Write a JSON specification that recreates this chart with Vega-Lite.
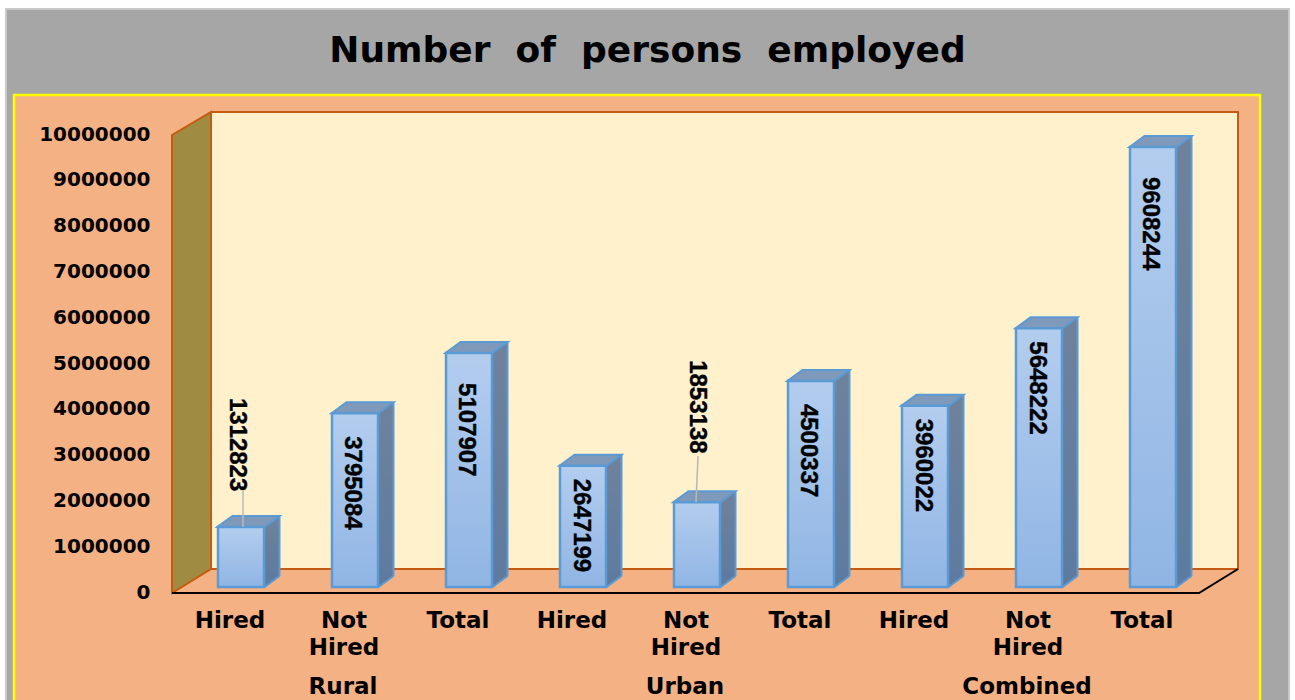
{"$schema":"https://vega.github.io/schema/vega-lite/v6.json","width":1295,"height":700,"padding":0,"autosize":"none","background":"#ffffff","config":{"view":{"stroke":null},"text":{"font":"Liberation Sans"}},"title":{"text":"Number\u00a0\u00a0of\u00a0\u00a0persons\u00a0\u00a0employed","font":"DejaVu Sans","fontWeight":"bold","fontSize":36,"color":"#000000","anchor":"middle","offset":-70,"zindex":1},"data":{"values":[{"id":"Rural Hired","group":"Rural","category":"Hired","value":1312823},{"id":"Rural Not Hired","group":"Rural","category":"Not Hired","value":3795084},{"id":"Rural Total","group":"Rural","category":"Total","value":5107907},{"id":"Urban Hired","group":"Urban","category":"Hired","value":2647199},{"id":"Urban Not Hired","group":"Urban","category":"Not Hired","value":1853138},{"id":"Urban Total","group":"Urban","category":"Total","value":4500337},{"id":"Combined Hired","group":"Combined","category":"Hired","value":3960022},{"id":"Combined Not Hired","group":"Combined","category":"Not Hired","value":5648222},{"id":"Combined Total","group":"Combined","category":"Total","value":9608244}]},"encoding":{"x":{"field":"id","type":"nominal","sort":null,"axis":null,"scale":{"type":"band","padding":0,"range":[184,1210]}},"y":{"field":"value","type":"quantitative","scale":{"domain":[-2467000,12817000],"nice":false,"zero":false},"axis":{"title":null,"values":[0,1000000,2000000,3000000,4000000,5000000,6000000,7000000,8000000,9000000,10000000],"format":"d","domain":false,"ticks":false,"grid":false,"offset":-150,"labelPadding":0,"labelOffset":5,"labelFont":"DejaVu Sans","labelFontWeight":"bold","labelFontSize":20,"labelColor":"#000000","zindex":1}}},"layer":[{"transform":[{"filter":"datum.id==='Rural Hired'"}],"mark":{"type":"point","filled":true,"opacity":1,"size":4000000,"shape":"M-0.235,-0.578L1.048,-0.578L1.048,0.12L-0.235,0.12Z","fill":"#a6a6a6","stroke":"#c8c8c8","strokeWidth":2},"encoding":{"y":{"datum":0,"type":"quantitative"}}},{"transform":[{"filter":"datum.id==='Rural Hired'"}],"mark":{"type":"point","filled":true,"opacity":1,"size":4000000,"shape":"M-0.227,-0.492L1.019,-0.492L1.019,0.13L-0.227,0.13Z","fill":"#f4b183","stroke":"#ffff00","strokeWidth":2.5},"encoding":{"y":{"datum":0,"type":"quantitative"}}},{"transform":[{"filter":"datum.id==='Rural Hired'"}],"mark":{"type":"point","filled":true,"opacity":1,"size":4000000,"shape":"M-0.03,-0.475L0.997,-0.475L0.997,-0.018L-0.03,-0.018Z","fill":"#fff1cc","stroke":"#c55a11","strokeWidth":2},"encoding":{"y":{"datum":0,"type":"quantitative"}}},{"transform":[{"filter":"datum.id==='Rural Hired'"}],"mark":{"type":"point","filled":true,"opacity":1,"size":4000000,"shape":"M-0.069,-0.452L-0.03,-0.475L-0.03,-0.018L-0.069,0.006Z","fill":"#a08c40","stroke":"#c55a11","strokeWidth":2},"encoding":{"y":{"datum":0,"type":"quantitative"}}},{"transform":[{"filter":"datum.id==='Rural Hired'"}],"mark":{"type":"point","filled":false,"opacity":1,"size":4000000,"shape":"M-0.069,0.006L0.958,0.006L0.997,-0.018","stroke":"#000000","strokeWidth":2},"encoding":{"y":{"datum":0,"type":"quantitative"}}},{"mark":{"type":"bar","width":46,"xOffset":15,"yOffset":-11,"y2Offset":-11,"fill":{"x1":0,"y1":0,"x2":0,"y2":1,"gradient":"linear","stops":[{"offset":0,"color":"#6f829c"},{"offset":1,"color":"#5e7b9f"}]}},"encoding":{"y2":{"datum":0}}},{"mark":{"type":"point","filled":true,"opacity":1,"size":40000,"shape":"M0.235,0L0.385,-0.11L0.385,-0.14L0.235,-0.14Z","fill":"#5e7b9f","strokeWidth":0},"encoding":{"y":{"datum":0,"type":"quantitative"}}},{"mark":{"type":"point","filled":false,"opacity":1,"size":40000,"shape":"M0.235,0L0.385,-0.11","stroke":"#5b9bd5","strokeWidth":2},"encoding":{"y":{"datum":0,"type":"quantitative"}}},{"mark":{"type":"rule","xOffset":38.5,"yOffset":-11,"y2Offset":-11,"stroke":"#5b9bd5","strokeWidth":2},"encoding":{"y2":{"datum":0}}},{"mark":{"type":"point","filled":true,"opacity":1,"size":40000,"shape":"M-0.235,0L-0.085,-0.11L0.385,-0.11L0.235,0Z","fill":"#7f99bb","stroke":"#5b9bd5","strokeWidth":2}},{"mark":{"type":"bar","width":46,"stroke":"#5b9bd5","strokeWidth":2.5,"fill":{"x1":0,"y1":0,"x2":0,"y2":1,"gradient":"linear","stops":[{"offset":0,"color":"#b3cdee"},{"offset":1,"color":"#90b5e4"}]}},"encoding":{"y2":{"datum":0}}},{"transform":[{"filter":"datum.value===1312823"}],"mark":{"type":"point","filled":false,"opacity":1,"size":40000,"shape":"M0.02,0L0.02,-0.36","stroke":"#b8b8b8","strokeWidth":1.5}},{"transform":[{"filter":"datum.value===1853138"}],"mark":{"type":"point","filled":false,"opacity":1,"size":40000,"shape":"M-0.01,0L0.01,-0.46","stroke":"#b8b8b8","strokeWidth":1.5}},{"transform":[{"filter":{"field":"value","oneOf":[2647199,3960022,5648222]}}],"mark":{"type":"text","font":"Liberation Sans","fontWeight":"bold","fontSize":24,"angle":90,"align":"left","baseline":"middle","xOffset":-2,"yOffset":13,"color":"#000000","stroke":"#000000","strokeWidth":0.4},"encoding":{"text":{"field":"value","type":"nominal"}}},{"transform":[{"filter":{"field":"value","oneOf":[3795084,4500337]}}],"mark":{"type":"text","font":"Liberation Sans","fontWeight":"bold","fontSize":24,"angle":90,"align":"left","baseline":"middle","xOffset":-3,"yOffset":23,"color":"#000000","stroke":"#000000","strokeWidth":0.4},"encoding":{"text":{"field":"value","type":"nominal"}}},{"transform":[{"filter":{"field":"value","oneOf":[5107907,9608244]}}],"mark":{"type":"text","font":"Liberation Sans","fontWeight":"bold","fontSize":24,"angle":90,"align":"left","baseline":"middle","xOffset":-3,"yOffset":30,"color":"#000000","stroke":"#000000","strokeWidth":0.4},"encoding":{"text":{"field":"value","type":"nominal"}}},{"transform":[{"filter":"datum.value===1312823"}],"mark":{"type":"text","font":"Liberation Sans","fontWeight":"bold","fontSize":24,"angle":90,"align":"left","baseline":"middle","xOffset":-4,"yOffset":-129,"color":"#000000","stroke":"#000000","strokeWidth":0.4},"encoding":{"text":{"field":"value","type":"nominal"}}},{"transform":[{"filter":"datum.value===1853138"}],"mark":{"type":"text","font":"Liberation Sans","fontWeight":"bold","fontSize":24,"angle":90,"align":"left","baseline":"middle","xOffset":0,"yOffset":-142,"color":"#000000","stroke":"#000000","strokeWidth":0.4},"encoding":{"text":{"field":"value","type":"nominal"}}},{"mark":{"type":"text","font":"DejaVu Sans","fontWeight":"bold","fontSize":23,"lineBreak":" ","lineHeight":27,"align":"center","baseline":"top","xOffset":-11,"yOffset":23,"color":"#000000"},"encoding":{"y":{"datum":0,"type":"quantitative"},"text":{"field":"category","type":"nominal"}}},{"transform":[{"filter":"datum.category==='Not Hired'"}],"mark":{"type":"text","font":"DejaVu Sans","fontWeight":"bold","fontSize":23,"align":"center","baseline":"middle","xOffset":-12,"yOffset":100,"color":"#000000"},"encoding":{"y":{"datum":0,"type":"quantitative"},"text":{"field":"group","type":"nominal"}}}]}
